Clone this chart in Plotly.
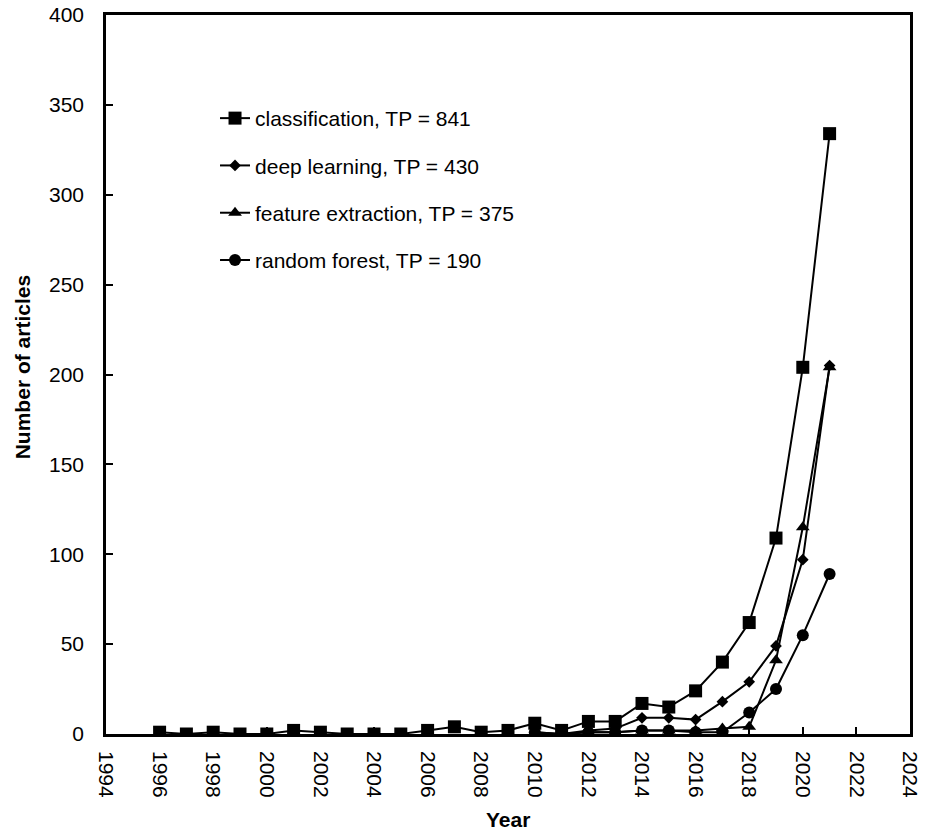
import plotly.graph_objects as go

years_cls = list(range(1996, 2022))
classification = [1, 0, 1, 0, 0, 2, 1, 0, 0, 0, 2, 4, 1, 2, 6, 2, 7, 7, 17, 15, 24, 40, 62, 109, 204, 334]

years_recent = list(range(2010, 2022))
deep_learning = [1, 0, 2, 3, 9, 9, 8, 18, 29, 49, 97, 205]
feature_extraction = [0, 0, 1, 1, 2, 2, 2, 3, 4, 41, 115, 204]
random_forest = [1, 0, 1, 1, 2, 2, 1, 1, 12, 25, 55, 89]

names = ["classification, TP = 841", "deep learning, TP = 430",
         "feature extraction, TP = 375", "random forest, TP = 190"]
symbols = ["square", "diamond", "triangle-up", "circle"]
sizes = [13, 9, 12, 12]

FONT = "Liberation Sans, Arial, sans-serif"

fig = go.Figure()
series = [(years_cls, classification), (years_recent, deep_learning),
          (years_recent, feature_extraction), (years_recent, random_forest)]
for i, ((xs, ys), nm, sym, sz) in enumerate(zip(series, names, symbols, sizes)):
    fig.add_trace(go.Scatter(
        x=xs, y=ys, name=nm, mode="lines+markers",
        line=dict(color="black", width=2),
        marker=dict(symbol=sym, size=sz, color="black"),
        legendgroup=f"g{i}",
    ))

fig.update_layout(
    width=926, height=832,
    margin=dict(l=106, r=16, t=15, b=98),
    paper_bgcolor="white", plot_bgcolor="white",
    font=dict(family=FONT, size=21, color="black"),
    showlegend=True,
    legend=dict(x=0.1356, y=0.8846, xanchor="left", yanchor="top",
                bgcolor="rgba(0,0,0,0)", tracegroupgap=17,
                font=dict(family=FONT, size=21, color="black"),
                traceorder="grouped"),
    xaxis=dict(range=[1994, 2024], dtick=2, tick0=1994, tickangle=90,
               showgrid=False, zeroline=False, automargin=False,
               showline=True, linecolor="black", linewidth=2.5, mirror=True,
               ticks="inside", ticklen=7, tickwidth=2, tickcolor="black",
               tickfont=dict(size=21), ticklabelstandoff=10),
    yaxis=dict(range=[0, 400], dtick=50,
               showgrid=False, zeroline=False, automargin=False,
               showline=True, linecolor="black", linewidth=2.5, mirror=True,
               ticks="inside", ticklen=7, tickwidth=2, tickcolor="black",
               tickfont=dict(size=21), ticklabelstandoff=15),
    annotations=[
        dict(text="<b>Year</b>", xref="paper", yref="paper", x=0.5, y=-0.1196,
             xanchor="center", yanchor="middle", showarrow=False,
             font=dict(family=FONT, size=21, color="black")),
        dict(text="<b>Number of articles</b>", xref="paper", yref="paper",
             x=-0.1045, y=0.51, xanchor="center", yanchor="middle",
             textangle=-90, showarrow=False,
             font=dict(family=FONT, size=21, color="black")),
    ],
)

fig.write_html("out.html",
               config={"displayModeBar": False},
               post_script="document.body.style.margin='0';document.body.style.overflow='hidden';")
